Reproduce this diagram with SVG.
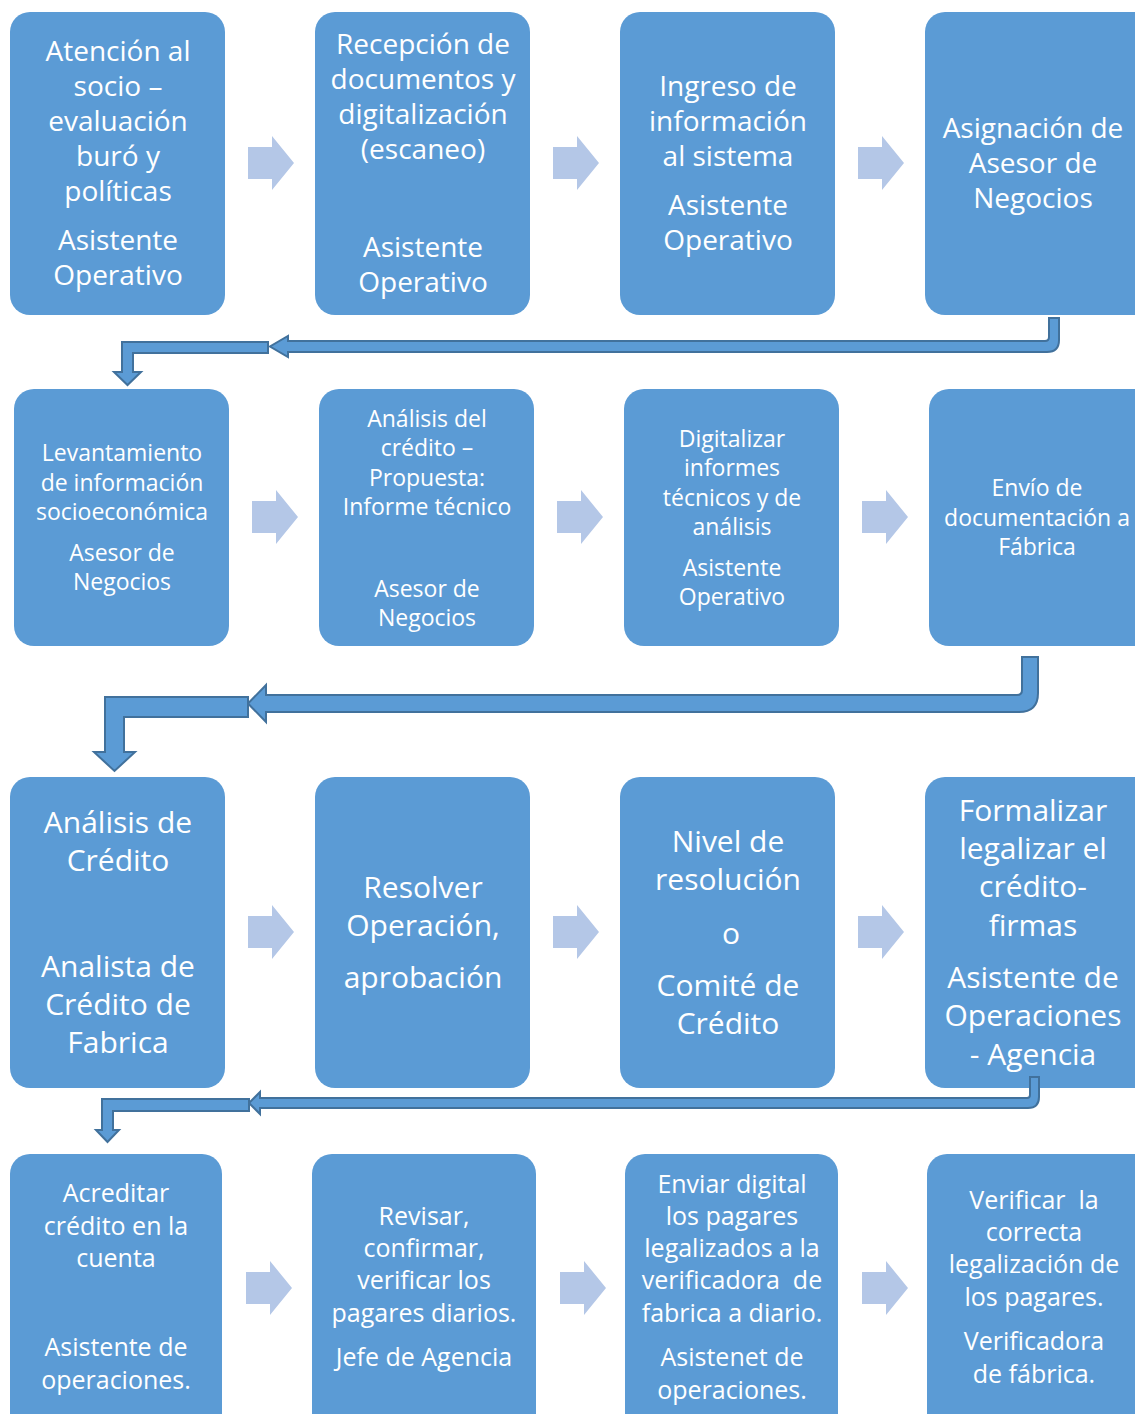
<svg xmlns="http://www.w3.org/2000/svg" xmlns:xlink="http://www.w3.org/1999/xlink" width="1135" height="1414" viewBox="0 0 1135 1414">
<style>
.box{fill:#5B9BD5;}
.t{fill:#FFFFFF;font-family:"Open Sans","Noto Sans",sans-serif;text-anchor:middle;white-space:pre;}
.r1{font-size:28px;}
.r2{font-size:23px;}
.r3{font-size:30px;}
.r4{font-size:25px;}
.bent{fill:#5B9BD5;stroke:#41719C;stroke-width:2;stroke-linejoin:miter;}
.sa{fill:#B4C7E7;}
</style>
<defs>
<path id="sa" d="M0,-16 L24,-16 L24,-27 L46,0 L24,27 L24,16 L0,16 Z"/>
</defs>
<rect width="1135" height="1414" fill="#FFFFFF"/>

<!-- Row 1 -->
<g id="n1"><rect class="box" x="10" y="12" width="215" height="303" rx="20"/>
<text class="t r1"><tspan x="118" y="61">Atención al</tspan><tspan x="118" y="96">socio –</tspan><tspan x="118" y="131">evaluación</tspan><tspan x="118" y="166">buró y</tspan><tspan x="118" y="201">políticas</tspan><tspan x="118" y="250">Asistente</tspan><tspan x="118" y="285">Operativo</tspan></text></g>
<g id="n2"><rect class="box" x="315" y="12" width="215" height="303" rx="20"/>
<text class="t r1"><tspan x="423" y="54">Recepción de</tspan><tspan x="423" y="89">documentos y</tspan><tspan x="423" y="124">digitalización</tspan><tspan x="423" y="159">(escaneo)</tspan><tspan x="423" y="257">Asistente</tspan><tspan x="423" y="292">Operativo</tspan></text></g>
<g id="n3"><rect class="box" x="620" y="12" width="215" height="303" rx="20"/>
<text class="t r1"><tspan x="728" y="96">Ingreso de</tspan><tspan x="728" y="131">información</tspan><tspan x="728" y="166">al sistema</tspan><tspan x="728" y="215">Asistente</tspan><tspan x="728" y="250">Operativo</tspan></text></g>
<g id="n4"><rect class="box" x="925" y="12" width="230" height="303" rx="20"/>
<text class="t r1"><tspan x="1033" y="138">Asignación de</tspan><tspan x="1033" y="173">Asesor de</tspan><tspan x="1033" y="208">Negocios</tspan></text></g>

<!-- Row 2 -->
<g id="n5"><rect class="box" x="14" y="389" width="215" height="257" rx="20"/>
<text class="t r2"><tspan x="122" y="461">Levantamiento</tspan><tspan x="122" y="491">de información</tspan><tspan x="122" y="520">socioeconómica</tspan><tspan x="122" y="561">Asesor de</tspan><tspan x="122" y="590">Negocios</tspan></text></g>
<g id="n6"><rect class="box" x="319" y="389" width="215" height="257" rx="20"/>
<text class="t r2"><tspan x="427" y="427">Análisis del</tspan><tspan x="427" y="456">crédito –</tspan><tspan x="427" y="486">Propuesta:</tspan><tspan x="427" y="515">Informe técnico</tspan><tspan x="427" y="597">Asesor de</tspan><tspan x="427" y="626">Negocios</tspan></text></g>
<g id="n7"><rect class="box" x="624" y="389" width="215" height="257" rx="20"/>
<text class="t r2"><tspan x="732" y="447">Digitalizar</tspan><tspan x="732" y="476">informes</tspan><tspan x="732" y="506">técnicos y de</tspan><tspan x="732" y="535">análisis</tspan><tspan x="732" y="576">Asistente</tspan><tspan x="732" y="605">Operativo</tspan></text></g>
<g id="n8"><rect class="box" x="929" y="389" width="230" height="257" rx="20"/>
<text class="t r2"><tspan x="1037" y="496">Envío de</tspan><tspan x="1037" y="526">documentación a</tspan><tspan x="1037" y="555">Fábrica</tspan></text></g>

<!-- Row 3 -->
<g id="n9"><rect class="box" x="10" y="777" width="215" height="311" rx="20"/>
<text class="t r3"><tspan x="118" y="833">Análisis de</tspan><tspan x="118" y="871">Crédito</tspan><tspan x="118" y="977">Analista de</tspan><tspan x="118" y="1015">Crédito de</tspan><tspan x="118" y="1053">Fabrica</tspan></text></g>
<g id="n10"><rect class="box" x="315" y="777" width="215" height="311" rx="20"/>
<text class="t r3"><tspan x="423" y="898">Resolver</tspan><tspan x="423" y="936">Operación,</tspan><tspan x="423" y="988">aprobación</tspan></text></g>
<g id="n11"><rect class="box" x="620" y="777" width="215" height="311" rx="20"/>
<text class="t r3"><tspan x="728" y="852">Nivel de</tspan><tspan x="728" y="890">resolución</tspan><tspan x="731" y="944">o</tspan><tspan x="728" y="996">Comité de</tspan><tspan x="728" y="1034">Crédito</tspan></text></g>
<g id="n12"><rect class="box" x="925" y="777" width="230" height="311" rx="20"/>
<text class="t r3"><tspan x="1033" y="821">Formalizar</tspan><tspan x="1033" y="859">legalizar el</tspan><tspan x="1033" y="897">crédito-</tspan><tspan x="1033" y="936">firmas</tspan><tspan x="1033" y="988">Asistente de</tspan><tspan x="1033" y="1026">Operaciones</tspan><tspan x="1033" y="1065">- Agencia</tspan></text></g>

<!-- Row 4 -->
<g id="n13"><rect class="box" x="10" y="1154" width="212" height="290" rx="20"/>
<text class="t r4"><tspan x="116" y="1202">Acreditar</tspan><tspan x="116" y="1235">crédito en la</tspan><tspan x="116" y="1267">cuenta</tspan><tspan x="116" y="1356">Asistente de</tspan><tspan x="116" y="1389">operaciones.</tspan></text></g>
<g id="n14"><rect class="box" x="312" y="1154" width="224" height="290" rx="20"/>
<text class="t r4"><tspan x="424" y="1225">Revisar,</tspan><tspan x="424" y="1257">confirmar,</tspan><tspan x="424" y="1289">verificar los</tspan><tspan x="424" y="1322">pagares diarios.</tspan><tspan x="424" y="1366">Jefe de Agencia</tspan></text></g>
<g id="n15"><rect class="box" x="625" y="1154" width="213" height="290" rx="20"/>
<text class="t r4"><tspan x="732" y="1193">Enviar digital</tspan><tspan x="732" y="1225">los pagares</tspan><tspan x="732" y="1257">legalizados a la</tspan><tspan x="732" y="1289">verificadora  de</tspan><tspan x="732" y="1322">fabrica a diario.</tspan><tspan x="732" y="1366">Asistenet de</tspan><tspan x="732" y="1399">operaciones.</tspan></text></g>
<g id="n16"><rect class="box" x="927" y="1154" width="230" height="290" rx="20"/>
<text class="t r4"><tspan x="1034" y="1209">Verificar  la</tspan><tspan x="1034" y="1241">correcta</tspan><tspan x="1034" y="1273">legalización de</tspan><tspan x="1034" y="1306">los pagares.</tspan><tspan x="1034" y="1350">Verificadora</tspan><tspan x="1034" y="1383">de fábrica.</tspan></text></g>

<!-- Connectors -->
<g id="connectors">
<use class="sa" xlink:href="#sa" href="#sa" x="248" y="163"/>
<use class="sa" xlink:href="#sa" href="#sa" x="553" y="163"/>
<use class="sa" xlink:href="#sa" href="#sa" x="858" y="163"/>
<use class="sa" xlink:href="#sa" href="#sa" x="252" y="517"/>
<use class="sa" xlink:href="#sa" href="#sa" x="557" y="517"/>
<use class="sa" xlink:href="#sa" href="#sa" x="862" y="517"/>
<use class="sa" xlink:href="#sa" href="#sa" x="248" y="932"/>
<use class="sa" xlink:href="#sa" href="#sa" x="553" y="932"/>
<use class="sa" xlink:href="#sa" href="#sa" x="858" y="932"/>
<use class="sa" xlink:href="#sa" href="#sa" x="246" y="1288"/>
<use class="sa" xlink:href="#sa" href="#sa" x="560" y="1288"/>
<use class="sa" xlink:href="#sa" href="#sa" x="862" y="1288"/>

<path class="bent" d="M1049,318 L1059,318 L1059,340 Q1059,352 1047,352 L288,352 L288,357 L270,346.5 L288,336 L288,341 L1045,341 Q1049,341 1049,337 Z"/>
<path class="bent" d="M268,342 L122,342 L122,372 L114,372 L127.5,385 L141,372 L133,372 L133,353 L268,353 Z"/>

<path class="bent" d="M1022,657 L1038,657 L1038,693 Q1038,712 1019,712 L266,712 L266,722 L248,703.5 L266,685 L266,695 L1017,695 Q1022,695 1022,690 Z"/>
<path class="bent" d="M248,697 L105,697 L105,752 L94,752 L114.5,771 L135,752 L124,752 L124,717 L248,717 Z"/>

<path class="bent" d="M1030,1077 L1039,1077 L1039,1097 Q1039,1108 1028,1108 L260,1108 L260,1114 L249,1103 L260,1092 L260,1098 L1027,1098 Q1030,1098 1030,1095 Z"/>
<path class="bent" d="M249,1099 L102,1099 L102,1130 L96,1130 L107.5,1142 L119,1130 L113,1130 L113,1111 L249,1111 Z"/>
</g>
</svg>
